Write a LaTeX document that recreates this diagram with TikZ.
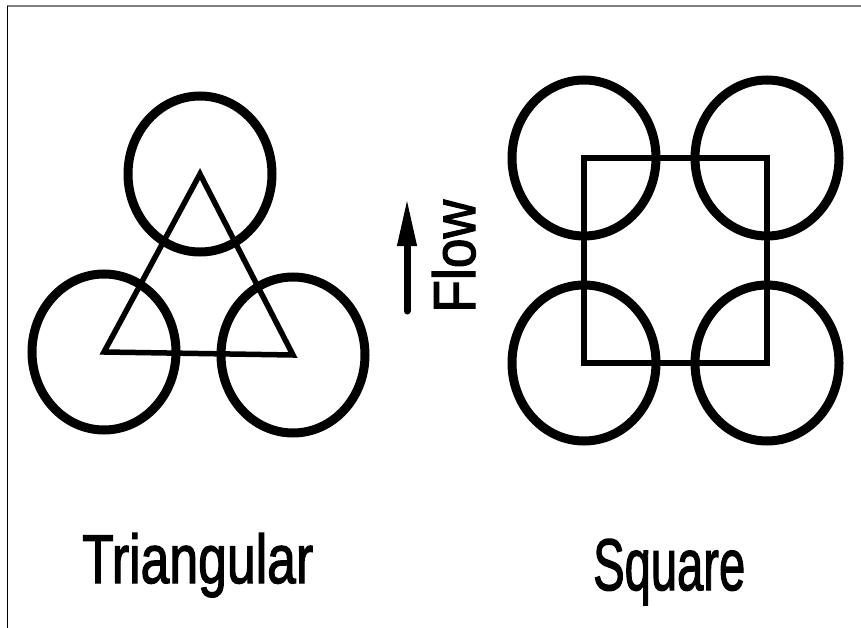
\documentclass[tikz,border=0pt]{standalone}
\usepackage{fontspec}
\newfontfamily\lbl[FakeBold=2]{Liberation Sans}
\usetikzlibrary{arrows.meta,shapes.geometric}
\begin{document}
\begin{tikzpicture}[x=1pt,y=-1pt,
  tube/.style={draw, ellipse, line width=9pt, minimum width=144pt, minimum height=156pt, inner sep=0pt},
  pitch/.style={line width=5.5pt, line join=miter},
  lbltext/.style={inner sep=0pt, font=\lbl}]
\useasboundingbox (0,0) rectangle (861,628);
% frame
\draw[color=black!50, line width=2pt] (7,6.5) -- (861,6.5);
\draw[color=black, line width=1.5pt] (7.5,6) -- (7.5,628);
% triangular arrangement
\coordinate (ta) at (200,174);
\coordinate (tb) at (104,352);
\coordinate (tc) at (293,355);
\node[tube] (t1) at (ta) {};
\node[tube] (t2) at (tb) {};
\node[tube] (t3) at (tc) {};
\draw[pitch] (ta) -- (tb) -- (tc) -- cycle;
% square arrangement
\coordinate (sa) at (584,158);
\coordinate (sb) at (767,158);
\coordinate (sc) at (767,363);
\coordinate (sd) at (584,363);
\node[tube] (s1) at (sa) {};
\node[tube] (s2) at (sb) {};
\node[tube] (s3) at (sc) {};
\node[tube] (s4) at (sd) {};
\draw[pitch] (sa) -- (sb) -- (sc) -- (sd) -- cycle;
% flow arrow
\coordinate (fs) at (407,311);
\coordinate (fe) at (407,198);
\draw[line width=7pt, line cap=round, -{Triangle[length=48pt,width=18pt]}] (fs) -- (fe);
\node[lbltext, rotate=90, anchor=base west] (flow) at (475,313) {\resizebox{113pt}{43pt}{Flow}};
% labels
\node[lbltext, anchor=base west] (tri) at (82,583) {\resizebox{231pt}{50pt}{Triangular}};
\node[lbltext, anchor=base west] (sq) at (593,590) {\resizebox{152pt}{51pt}{Square}};
\end{tikzpicture}
\end{document}
